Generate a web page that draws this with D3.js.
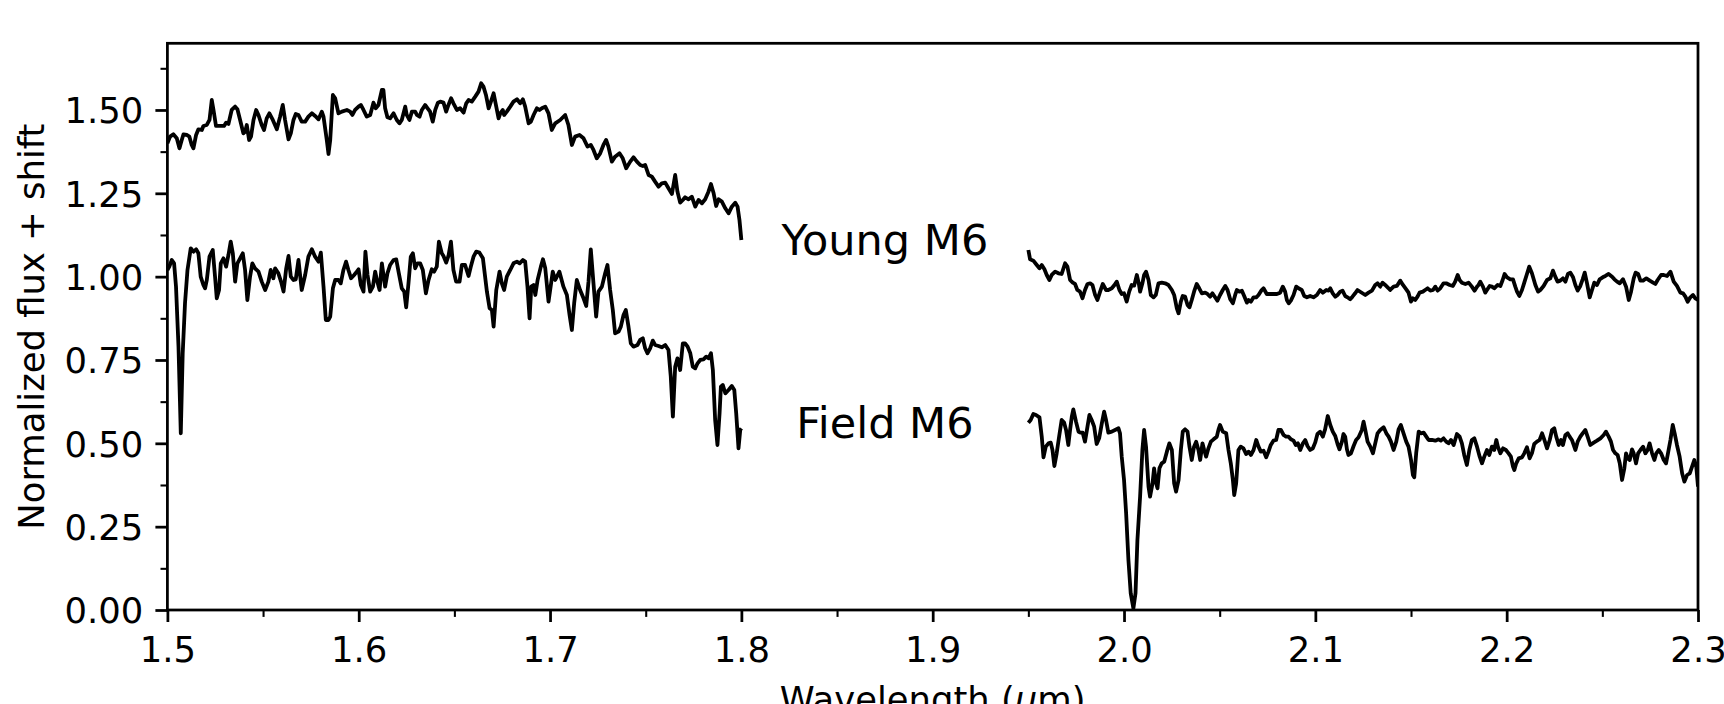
<!DOCTYPE html>
<html><head><meta charset="utf-8">
<script src="https://cdn.jsdelivr.net/npm/d3@7"></script>
<style>html,body{margin:0;padding:0;background:#fff;overflow:hidden}</style>
</head><body>
<svg id="chart" width="1724" height="704"></svg>
<script>
// ---------- DATA ----------
const youngWaveH = [1.5000,1.5014,1.5031,1.5049,1.5063,1.5075,1.5084,1.5101,1.5115,1.5127,
1.5136,1.5150,1.5162,1.5180,1.5188,1.5206,1.5220,1.5232,1.5241,1.5254,
1.5275,1.5296,1.5307,1.5319,1.5336,1.5354,1.5366,1.5380,1.5397,1.5406,
1.5415,1.5427,1.5437,1.5450,1.5464,1.5476,1.5493,1.5505,1.5519,1.5533,
1.5551,1.5572,1.5589,1.5603,1.5615,1.5633,1.5645,1.5659,1.5671,1.5685,
1.5702,1.5720,1.5737,1.5755,1.5772,1.5790,1.5807,1.5816,1.5833,1.5842,
1.5851,1.5865,1.5877,1.5894,1.5912,1.5938,1.5955,1.5967,1.5981,1.5999,
1.6011,1.6025,1.6042,1.6060,1.6077,1.6089,1.6103,1.6121,1.6129,1.6138,
1.6150,1.6164,1.6182,1.6199,1.6213,1.6225,1.6243,1.6251,1.6265,1.6278,
1.6295,1.6304,1.6318,1.6330,1.6347,1.6360,1.6373,1.6387,1.6400,1.6414,
1.6426,1.6443,1.6457,1.6469,1.6483,1.6495,1.6513,1.6530,1.6548,1.6562,
1.6574,1.6591,1.6609,1.6626,1.6640,1.6652,1.6665,1.6679,1.6691,1.6705,
1.6717,1.6731,1.6740,1.6753,1.6760,1.6774,1.6792,1.6809,1.6827,1.6844,
1.6858,1.6870,1.6888,1.6900,1.6914,1.6931,1.6945,1.6957,1.6975,1.6992,
1.7009,1.7027,1.7053,1.7079,1.7096,1.7114,1.7131,1.7154,1.7175,1.7196,
1.7213,1.7227,1.7244,1.7262,1.7279,1.7293,1.7305,1.7323,1.7340,1.7363,
1.7380,1.7398,1.7419,1.7436,1.7454,1.7471,1.7485,1.7497,1.7515,1.7532,
1.7549,1.7567,1.7584,1.7602,1.7619,1.7637,1.7654,1.7666,1.7680,1.7694,
1.7706,1.7724,1.7741,1.7759,1.7776,1.7794,1.7811,1.7828,1.7841,1.7855,
1.7868,1.7881,1.7898,1.7916,1.7933,1.7950,1.7968,1.7980,1.7990,1.8000];
const youngFluxH = [1.400,1.420,1.427,1.415,1.385,1.410,1.427,1.425,1.420,1.395,
1.385,1.425,1.442,1.440,1.452,1.455,1.470,1.530,1.500,1.452,
1.452,1.452,1.462,1.458,1.500,1.510,1.502,1.470,1.430,1.435,
1.455,1.410,1.420,1.470,1.500,1.485,1.455,1.440,1.475,1.490,
1.470,1.442,1.480,1.515,1.470,1.412,1.430,1.470,1.488,1.485,
1.465,1.465,1.480,1.490,1.482,1.472,1.495,1.480,1.410,1.368,
1.410,1.545,1.535,1.490,1.495,1.500,1.495,1.485,1.500,1.510,
1.515,1.500,1.480,1.485,1.522,1.505,1.515,1.560,1.560,1.505,
1.478,1.475,1.490,1.470,1.460,1.470,1.510,1.485,1.470,1.495,
1.495,1.485,1.480,1.500,1.515,1.505,1.495,1.465,1.500,1.522,
1.525,1.522,1.495,1.515,1.535,1.520,1.500,1.505,1.492,1.520,
1.530,1.525,1.540,1.555,1.580,1.570,1.545,1.505,1.525,1.550,
1.515,1.475,1.490,1.500,1.485,1.495,1.510,1.525,1.532,1.520,
1.532,1.510,1.460,1.465,1.485,1.505,1.500,1.505,1.510,1.490,
1.440,1.460,1.470,1.485,1.455,1.395,1.420,1.425,1.415,1.390,
1.395,1.380,1.355,1.370,1.395,1.410,1.390,1.345,1.360,1.370,
1.355,1.325,1.345,1.358,1.345,1.335,1.332,1.335,1.305,1.300,
1.285,1.270,1.280,1.282,1.265,1.248,1.305,1.255,1.222,1.230,
1.238,1.232,1.240,1.210,1.230,1.220,1.232,1.255,1.278,1.250,
1.212,1.232,1.225,1.205,1.190,1.210,1.222,1.210,1.170,1.110];

const youngWaveK = [1.9500,1.9509,1.9526,1.9544,1.9558,1.9570,1.9584,1.9596,1.9610,1.9622,
1.9640,1.9657,1.9674,1.9692,1.9704,1.9718,1.9732,1.9744,1.9756,1.9770,
1.9783,1.9796,1.9809,1.9823,1.9835,1.9849,1.9861,1.9875,1.9889,1.9906,
1.9918,1.9936,1.9950,1.9962,1.9976,1.9988,2.0000,2.0014,2.0027,2.0040,
2.0053,2.0067,2.0077,2.0084,2.0096,2.0105,2.0115,2.0128,2.0140,2.0154,
2.0166,2.0180,2.0197,2.0215,2.0232,2.0250,2.0262,2.0276,2.0285,2.0297,
2.0307,2.0319,2.0332,2.0342,2.0354,2.0366,2.0380,2.0393,2.0407,2.0424,
2.0436,2.0450,2.0462,2.0476,2.0488,2.0502,2.0516,2.0529,2.0541,2.0555,
2.0569,2.0581,2.0590,2.0603,2.0616,2.0628,2.0642,2.0651,2.0663,2.0677,
2.0691,2.0703,2.0717,2.0729,2.0746,2.0764,2.0781,2.0799,2.0816,2.0830,
2.0842,2.0851,2.0861,2.0872,2.0886,2.0900,2.0912,2.0929,2.0942,2.0956,
2.0973,2.0990,2.1008,2.1025,2.1039,2.1057,2.1069,2.1078,2.1091,2.1104,
2.1116,2.1130,2.1142,2.1156,2.1168,2.1182,2.1194,2.1208,2.1220,
2.1261,2.1278,2.1296,2.1313,2.1325,2.1339,2.1351,2.1365,2.1383,2.1391,
2.1409,2.1426,2.1444,2.1458,2.1475,2.1487,2.1500,2.1510,2.1522,2.1534,
2.1545,2.1562,2.1574,2.1587,2.1601,2.1615,2.1627,2.1639,2.1653,2.1670,
2.1684,2.1702,2.1719,2.1731,2.1744,2.1754,2.1766,2.1784,2.1801,2.1818,
2.1832,2.1845,2.1853,2.1862,2.1876,2.1888,2.1897,2.1911,2.1923,2.1935,
2.1953,2.1967,2.1979,2.1989,2.2002,2.2019,2.2033,2.2045,2.2054,2.2066,
2.2080,2.2092,2.2106,2.2118,2.2132,2.2150,2.2164,2.2176,2.2193,2.2211,
2.2228,2.2242,2.2254,2.2266,2.2280,2.2294,2.2307,2.2320,2.2333,2.2347,
2.2359,2.2371,2.2385,2.2397,2.2408,2.2420,2.2434,2.2446,2.2458,2.2472,
2.2486,2.2502,2.2516,2.2533,2.2551,2.2563,2.2577,2.2591,2.2608,2.2624,
2.2638,2.2650,2.2664,2.2674,2.2687,2.2699,2.2713,2.2730,2.2748,2.2765,
2.2777,2.2789,2.2807,2.2821,2.2838,2.2856,2.2873,2.2890,2.2908,2.2922,
2.2934,2.2946,2.2960,2.2974,2.2986,2.3000];
const youngFluxK = [1.080,1.052,1.048,1.035,1.025,1.035,1.022,1.005,0.990,1.005,
1.015,1.010,1.008,1.040,1.030,0.990,0.982,0.978,0.960,0.955,
0.935,0.960,0.978,0.980,0.975,0.945,0.930,0.955,0.978,0.960,
0.960,0.965,0.975,0.985,0.960,0.948,0.950,0.925,0.955,0.975,
0.973,1.005,0.980,0.955,0.980,1.005,1.015,0.990,0.945,0.938,
0.945,0.980,0.982,0.980,0.975,0.960,0.945,0.905,0.890,0.925,
0.942,0.940,0.915,0.908,0.930,0.955,0.978,0.965,0.950,0.952,
0.948,0.940,0.950,0.938,0.928,0.945,0.960,0.972,0.960,0.932,
0.920,0.945,0.960,0.955,0.958,0.942,0.922,0.930,0.925,0.938,
0.938,0.945,0.958,0.965,0.948,0.948,0.948,0.948,0.952,0.970,
0.955,0.930,0.920,0.928,0.945,0.970,0.965,0.960,0.942,0.938,
0.942,0.938,0.945,0.960,0.952,0.960,0.958,0.965,0.950,0.940,
0.945,0.955,0.958,0.942,0.938,0.932,0.940,0.950,0.960,
0.945,0.952,0.958,0.975,0.980,0.970,0.982,0.975,0.965,0.960,
0.970,0.972,0.988,0.975,0.962,0.952,0.925,0.935,0.930,0.940,
0.952,0.955,0.960,0.965,0.958,0.960,0.970,0.958,0.965,0.980,
0.980,0.975,0.972,0.985,1.005,0.990,0.982,0.978,0.982,0.970,
0.958,0.970,0.975,0.985,0.970,0.952,0.960,0.972,0.970,0.965,
0.975,0.972,0.990,1.008,0.998,0.992,0.992,0.970,0.955,0.942,
0.960,0.982,1.008,1.030,1.010,0.975,0.955,0.960,0.972,0.990,
0.995,1.018,1.000,0.985,0.988,0.995,0.985,1.008,1.012,0.998,
0.975,0.958,0.972,0.992,1.012,0.980,0.938,0.960,0.982,0.975,
0.992,0.998,1.002,1.008,1.000,0.992,0.985,0.980,0.992,0.970,
0.930,0.955,0.995,1.012,1.008,0.988,0.988,0.995,0.988,0.982,
0.978,0.990,1.005,1.005,1.002,1.015,0.985,0.972,0.952,0.950,
0.940,0.925,0.938,0.945,0.935,0.930];

const fieldWaveH = [1.5000,1.5010,1.5023,1.5035,1.5045,1.5058,1.5070,1.5080,1.5092,1.5105,
1.5122,1.5136,1.5150,1.5162,1.5174,1.5188,1.5197,1.5206,1.5220,1.5237,
1.5249,1.5258,1.5270,1.5279,1.5293,1.5307,1.5319,1.5331,1.5342,1.5354,
1.5366,1.5380,1.5394,1.5406,1.5418,1.5432,1.5444,1.5458,1.5476,1.5493,
1.5511,1.5528,1.5540,1.5554,1.5563,1.5580,1.5594,1.5607,1.5621,1.5633,
1.5645,1.5659,1.5671,1.5685,1.5702,1.5720,1.5737,1.5755,1.5772,1.5790,
1.5802,1.5816,1.5828,1.5842,1.5851,1.5865,1.5877,1.5894,1.5906,1.5920,
1.5934,1.5946,1.5960,1.5976,1.5990,1.5999,1.6011,1.6025,1.6035,1.6046,
1.6060,1.6074,1.6086,1.6095,1.6109,1.6121,1.6138,1.6150,1.6164,1.6182,
1.6196,1.6208,1.6225,1.6238,1.6248,1.6260,1.6272,1.6283,1.6295,1.6307,
1.6321,1.6335,1.6351,1.6365,1.6382,1.6394,1.6408,1.6419,1.6434,1.6443,
1.6457,1.6469,1.6482,1.6495,1.6509,1.6527,1.6539,1.6556,1.6574,1.6586,
1.6600,1.6614,1.6631,1.6649,1.6670,1.6684,1.6696,1.6705,1.6719,1.6736,
1.6748,1.6760,1.6774,1.6792,1.6809,1.6827,1.6841,1.6858,1.6870,1.6882,
1.6893,1.6902,1.6914,1.6923,1.6935,1.6952,1.6963,1.6975,1.6992,
1.7014,1.7027,1.7049,1.7070,1.7088,1.7102,1.7114,1.7126,1.7140,1.7157,
1.7175,1.7189,1.7201,1.7213,1.7227,1.7241,1.7253,1.7271,1.7288,1.7300,
1.7314,1.7328,1.7340,1.7358,1.7370,1.7384,1.7396,1.7410,1.7422,1.7436,
1.7457,1.7471,1.7485,1.7497,1.7509,1.7523,1.7537,1.7549,1.7567,1.7584,
1.7602,1.7619,1.7631,1.7642,1.7654,1.7666,1.7680,1.7694,1.7706,1.7719,
1.7733,1.7746,1.7759,1.7771,1.7785,1.7802,1.7816,1.7828,1.7841,1.7851,
1.7863,1.7875,1.7886,1.7893,1.7903,1.7916,1.7933,1.7950,1.7963,1.7973,
1.7980,1.7985,1.7994,1.8000];
const fieldFluxH = [1.020,1.030,1.050,1.040,0.970,0.790,0.530,0.770,0.920,1.020,
1.085,1.075,1.082,1.070,1.000,0.975,0.965,0.990,1.060,1.080,
1.000,0.935,0.960,1.040,1.055,1.030,1.065,1.105,1.070,0.985,
1.040,1.055,1.070,1.020,0.930,1.000,1.040,1.025,1.015,0.985,
0.960,0.985,1.020,0.995,1.025,1.010,0.985,0.955,1.025,1.062,
1.000,0.990,0.992,1.050,0.960,1.005,1.060,1.082,1.060,1.045,
1.072,0.970,0.870,0.870,0.880,0.965,0.990,0.990,0.980,1.020,
1.045,1.020,0.995,1.005,1.015,1.022,0.975,0.955,1.075,1.005,
0.955,0.970,1.015,0.990,0.960,1.040,0.970,1.010,1.035,1.050,
1.052,1.015,0.965,0.955,0.908,0.980,1.060,1.070,1.025,1.040,
1.040,1.020,0.950,0.990,1.022,1.015,1.030,1.105,1.070,1.062,
1.042,1.062,1.105,1.020,0.985,0.985,1.035,1.035,1.002,1.030,
1.060,1.075,1.072,1.055,0.955,0.905,0.900,0.850,0.960,1.015,
0.980,0.960,1.000,1.020,1.040,1.045,1.040,1.050,1.045,0.970,
0.875,0.970,0.975,0.945,0.990,1.030,1.052,1.025,0.925,
1.015,0.990,1.015,0.970,0.945,0.885,0.840,0.920,0.990,0.960,
0.935,0.912,0.985,1.082,0.980,0.880,0.955,0.970,1.010,1.035,
0.960,0.900,0.830,0.835,0.850,0.885,0.900,0.850,0.800,0.790,
0.795,0.810,0.815,0.785,0.770,0.785,0.808,0.795,0.792,0.788,
0.795,0.780,0.700,0.580,0.730,0.755,0.720,0.800,0.800,0.790,
0.770,0.730,0.725,0.740,0.750,0.752,0.760,0.755,0.770,0.720,
0.570,0.495,0.590,0.670,0.675,0.650,0.660,0.672,0.660,0.590,
0.530,0.485,0.540,0.545];

const fieldWaveK = [1.9500,1.9512,1.9526,1.9540,1.9558,1.9570,1.9579,1.9591,1.9605,1.9617,
1.9626,1.9636,1.9648,1.9662,1.9674,1.9687,1.9697,1.9709,1.9718,1.9727,
1.9735,1.9749,1.9762,1.9774,1.9784,1.9796,1.9809,1.9819,1.9831,1.9844,
1.9857,1.9870,1.9884,1.9896,1.9906,1.9918,1.9936,1.9953,1.9971,1.9979,
1.9988,2.0000,2.0011,2.0023,2.0035,2.0049,2.0060,2.0070,2.0084,2.0096,
2.0105,2.0115,2.0128,2.0136,2.0149,2.0157,2.0168,2.0175,2.0185,2.0197,
2.0210,2.0224,2.0237,2.0250,2.0262,2.0272,2.0285,2.0297,2.0307,2.0319,
2.0332,2.0342,2.0354,2.0366,2.0377,2.0389,2.0398,2.0410,2.0419,2.0429,
2.0441,2.0454,2.0468,2.0485,2.0494,2.0502,2.0516,2.0534,2.0546,2.0558,
2.0569,2.0576,2.0586,2.0598,2.0610,2.0624,2.0638,2.0651,2.0663,2.0677,
2.0691,2.0703,2.0715,2.0729,2.0743,2.0755,2.0767,2.0781,2.0795,2.0807,
2.0820,2.0834,2.0847,2.0860,2.0872,2.0886,2.0898,2.0909,2.0921,2.0935,
2.0947,2.0959,2.0973,2.0987,2.0999,2.1011,2.1025,2.1039,2.1051,2.1065,
2.1078,2.1091,2.1104,2.1116,2.1126,2.1139,2.1147,2.1156,2.1165,2.1173,
2.1186,2.1200,2.1213,2.1226,
2.1243,2.1252,2.1261,2.1273,2.1287,2.1301,2.1313,2.1325,2.1339,2.1357,
2.1371,2.1383,2.1395,2.1409,2.1423,2.1435,2.1447,2.1461,2.1475,2.1487,
2.1500,2.1510,2.1517,2.1527,2.1540,2.1552,2.1566,2.1580,2.1592,2.1609,
2.1627,2.1644,2.1656,2.1670,2.1684,2.1696,2.1709,2.1723,2.1740,2.1754,
2.1766,2.1778,2.1792,2.1805,2.1818,2.1831,2.1845,2.1859,2.1871,2.1883,
2.1897,2.1909,2.1923,2.1935,2.1946,2.1954,2.1967,2.1981,2.1996,2.2010,
2.2022,2.2033,2.2040,2.2050,2.2063,2.2080,2.2092,2.2106,2.2120,2.2132,
2.2144,2.2158,2.2172,2.2185,2.2197,2.2211,2.2225,2.2237,2.2249,2.2259,
2.2272,2.2284,2.2294,2.2307,2.2319,2.2329,2.2341,2.2359,2.2371,2.2385,
2.2397,2.2411,2.2423,2.2437,2.2455,2.2472,2.2490,2.2507,2.2519,2.2533,
2.2545,2.2556,2.2568,2.2580,2.2591,2.2603,2.2615,2.2624,2.2632,2.2643,
2.2655,2.2664,2.2676,2.2687,2.2699,2.2713,2.2725,2.2737,2.2747,2.2760,
2.2772,2.2782,2.2795,2.2807,2.2821,2.2833,2.2843,2.2856,2.2868,2.2878,
2.2890,2.2904,2.2917,2.2929,2.2943,2.2957,2.2969,2.2981,2.2991,2.3000];
const fieldFluxK = [0.562,0.570,0.588,0.585,0.578,0.520,0.458,0.490,0.500,0.502,
0.480,0.432,0.470,0.525,0.570,0.562,0.540,0.495,0.540,0.580,
0.602,0.565,0.535,0.532,0.532,0.505,0.550,0.585,0.570,0.550,
0.498,0.515,0.560,0.595,0.570,0.532,0.535,0.540,0.545,0.530,
0.460,0.390,0.290,0.150,0.050,0.005,0.050,0.210,0.340,0.480,
0.540,0.490,0.370,0.340,0.380,0.425,0.380,0.365,0.425,0.440,
0.445,0.475,0.500,0.480,0.380,0.355,0.390,0.480,0.535,0.542,
0.535,0.490,0.450,0.490,0.505,0.480,0.450,0.500,0.480,0.460,
0.485,0.505,0.512,0.520,0.542,0.555,0.535,0.530,0.480,0.440,
0.390,0.345,0.380,0.480,0.490,0.485,0.468,0.475,0.465,0.480,
0.510,0.490,0.475,0.478,0.458,0.475,0.495,0.508,0.510,0.540,
0.540,0.525,0.520,0.520,0.512,0.508,0.495,0.500,0.480,0.500,
0.510,0.492,0.480,0.485,0.502,0.528,0.535,0.520,0.542,0.582,
0.555,0.535,0.522,0.498,0.482,0.505,0.528,0.520,0.482,0.465,
0.470,0.492,0.510,0.518,
0.540,0.565,0.540,0.505,0.490,0.470,0.500,0.530,0.540,0.548,
0.530,0.520,0.505,0.480,0.505,0.542,0.555,0.530,0.505,0.490,
0.450,0.405,0.398,0.470,0.535,0.530,0.532,0.520,0.510,0.510,
0.508,0.512,0.508,0.515,0.505,0.500,0.510,0.495,0.528,0.520,
0.500,0.465,0.435,0.480,0.510,0.515,0.490,0.460,0.440,0.460,
0.480,0.465,0.490,0.480,0.510,0.490,0.470,0.485,0.480,0.470,
0.460,0.430,0.420,0.440,0.455,0.458,0.470,0.488,0.455,0.470,
0.498,0.505,0.510,0.530,0.510,0.485,0.510,0.540,0.545,0.520,
0.495,0.510,0.495,0.525,0.530,0.520,0.510,0.480,0.505,0.520,
0.530,0.540,0.520,0.495,0.502,0.508,0.515,0.525,0.535,0.520,
0.505,0.480,0.470,0.465,0.440,0.390,0.425,0.470,0.455,0.450,
0.482,0.470,0.440,0.470,0.480,0.490,0.470,0.480,0.500,0.470,
0.450,0.470,0.480,0.470,0.450,0.440,0.470,0.510,0.555,0.530,
0.495,0.460,0.410,0.385,0.405,0.410,0.430,0.450,0.430,0.370];

const xTicks = [1.5,1.6,1.7,1.8,1.9,2.0,2.1,2.2,2.3];
const xTickLabels = ["1.5","1.6","1.7","1.8","1.9","2.0","2.1","2.2","2.3"];
const xMinorTicks = [1.55,1.65,1.75,1.85,1.95,2.05,2.15,2.25];
const yTicks = [0,0.25,0.5,0.75,1.0,1.25,1.5];
const yTickLabels = ["0.00","0.25","0.50","0.75","1.00","1.25","1.50"];
const yMinorTicks = [0.125,0.375,0.625,0.875,1.125,1.375,1.625];
const seriesNames = ["Young M6","Field M6"];
const labelX = [1.875,1.875];
const labelY = [1.065,0.515];
const xDomain = [1.5,2.3];
const yDomain = [0,1.7];

// ---------- DRAW ----------
const FONT = "DejaVu Sans";
const FS = 35.4, FS_LBL = 43;
const svg = d3.select("#chart");
svg.append("rect").attr("width",1724).attr("height",704).attr("fill","#fff");

const L = 167.4, R = 1698, T = 43.3, B = 610;
const x = d3.scaleLinear().domain(xDomain).range([L,R]);
const y = d3.scaleLinear().domain(yDomain).range([B,T]);

svg.append("defs").append("clipPath").attr("id","clip")
  .append("rect").attr("x",L).attr("y",T).attr("width",R-L).attr("height",B-T);

const line = d3.line().x(d=>x(d[0])).y(d=>y(d[1]));
const plots = svg.append("g").attr("clip-path","url(#clip)");
[[youngWaveH,youngFluxH],[youngWaveK,youngFluxK],[fieldWaveH,fieldFluxH],[fieldWaveK,fieldFluxK]]
 .forEach(([w,f])=>{
  plots.append("path").datum(d3.zip(w,f)).attr("d",line)
   .attr("fill","none").attr("stroke","#000").attr("stroke-width",3.8)
   .attr("stroke-linejoin","round").attr("stroke-linecap","butt");
 });

// labels
seriesNames.forEach((s,i)=>{
  svg.append("text").attr("x",x(labelX[i])).attr("y",y(labelY[i]))
   .attr("text-anchor","middle").attr("font-family",FONT).attr("font-size",FS_LBL)
   .attr("fill","#000").text(s);
});

// axes
const MAJ = 12, MIN = 6.9;
const gx = svg.append("g").attr("transform",`translate(0,${B})`)
  .call(d3.axisBottom(x).tickValues(xTicks).tickFormat((d,i)=>xTickLabels[i]).tickSize(MAJ).tickPadding(0));
gx.select(".domain").remove();
gx.selectAll("line").attr("stroke","#000").attr("stroke-width",2.76);
gx.selectAll("text").attr("font-family",FONT).attr("font-size",FS).attr("fill","#000")
  .attr("dy",null).attr("y",52);
const gxm = svg.append("g").attr("transform",`translate(0,${B})`)
  .call(d3.axisBottom(x).tickValues(xMinorTicks).tickFormat("").tickSize(MIN));
gxm.select(".domain").remove();
gxm.selectAll("line").attr("stroke","#000").attr("stroke-width",2.07);

const gy = svg.append("g").attr("transform",`translate(${L},0)`)
  .call(d3.axisLeft(y).tickValues(yTicks).tickFormat((d,i)=>yTickLabels[i]).tickSize(MAJ).tickPadding(12));
gy.select(".domain").remove();
gy.selectAll("line").attr("stroke","#000").attr("stroke-width",2.76);
gy.selectAll("text").attr("font-family",FONT).attr("font-size",FS).attr("fill","#000")
  .attr("dy","0.364em");
const gym = svg.append("g").attr("transform",`translate(${L},0)`)
  .call(d3.axisLeft(y).tickValues(yMinorTicks).tickFormat("").tickSize(MIN));
gym.select(".domain").remove();
gym.selectAll("line").attr("stroke","#000").attr("stroke-width",2.07);

// spines
svg.append("rect").attr("x",L).attr("y",T).attr("width",R-L).attr("height",B-T)
  .attr("fill","none").attr("stroke","#000").attr("stroke-width",2.76)
  .attr("stroke-linejoin","miter");

// axis titles
svg.append("text").attr("transform",`translate(44,${(T+B)/2}) rotate(-90)`)
  .attr("text-anchor","middle").attr("font-family",FONT).attr("font-size",FS)
  .attr("fill","#000").text("Normalized flux + shift");
const xl = svg.append("text").attr("x",(L+R)/2).attr("y",712)
  .attr("text-anchor","middle").attr("font-family",FONT).attr("font-size",FS).attr("fill","#000");
xl.append("tspan").text("Wavelength (");
xl.append("tspan").attr("font-style","italic").text("\u03bc");
xl.append("tspan").text("m)");
</script>
</body></html>
